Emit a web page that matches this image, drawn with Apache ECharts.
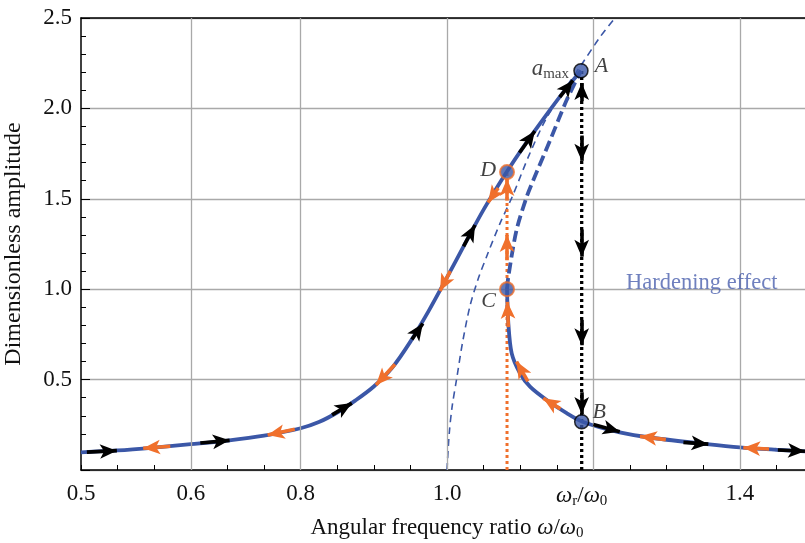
<!DOCTYPE html>
<html>
<head>
<meta charset="utf-8">
<script src="https://cdn.jsdelivr.net/npm/echarts@6/dist/echarts.min.js"></script>
<style>
html,body{margin:0;padding:0;background:#fff;}
#chart{width:805px;height:543px;}
</style>
</head>
<body>
<div id="chart"></div>
<script>
// Frequency response of a hardening oscillator: amplitude vs. frequency ratio.

// stable upper branch, from low frequency up to the peak A
const upperBranch = [
  [0.5,0.098],[0.55,0.108],[0.6,0.124],[0.65,0.143],[0.7,0.163],[0.75,0.19],
  [0.8,0.231],[0.825,0.265],[0.85,0.318],[0.875,0.385],[0.9,0.462],[0.925,0.565],
  [0.95,0.71],[0.975,0.88],[1.0,1.065],[1.025,1.255],[1.05,1.44],[1.0815,1.648],
  [1.1066,1.80],[1.135,1.96],[1.159,2.09],[1.183,2.208]
];
// stable lower branch, from C through B to high frequency
const lowerBranch = [
  [1.082,1.0],[1.0838,0.811],[1.0884,0.645],[1.0997,0.535],[1.1134,0.461],
  [1.1362,0.387],[1.1635,0.314],[1.185,0.267],[1.236,0.208],[1.282,0.177],
  [1.355,0.143],[1.4,0.125],[1.45,0.112],[1.5,0.101]
];
// unstable middle branch between C and A
const unstableBranch = [
  [1.082,1.0],[1.0838,1.069],[1.095,1.327],[1.109,1.512],[1.118,1.604],
  [1.141,1.825],[1.1635,2.046],[1.183,2.208]
];
// backbone curve (free-vibration frequency vs. amplitude)
const backbone = [
  [1.0,0.0],[1.003,0.2],[1.007,0.35],[1.013,0.5],[1.021,0.7],[1.031,0.9],
  [1.042,1.05],[1.056,1.2],[1.072,1.36],[1.09,1.52],[1.112,1.74],[1.135,1.94],
  [1.16,2.1],[1.185,2.25],[1.21,2.4],[1.2295,2.5]
];
// jump-down (black) and jump-up (orange) frequencies with their top amplitudes
const jumpDown = [[1.184,0.0],[1.184,2.208]];
const jumpUp = [[1.082,0.0],[1.082,1.648]];

// direction arrows: [x from, a from, x to, a to]
const blackArrows = [
  [0.508,0.099,0.549,0.107],[0.663,0.149,0.703,0.164],[0.843,0.305,0.870,0.37],
  [0.952,0.722,0.967,0.81],[1.0226,1.237,1.0383,1.355],[1.099,1.755,1.120,1.875],
  [1.154,2.062,1.172,2.155],
  [1.200,0.252,1.236,0.212],[1.323,0.153,1.357,0.143],[1.452,0.111,1.489,0.104],
  [1.184,1.85,1.184,1.71],[1.184,1.33,1.184,1.18],[1.184,0.83,1.184,0.69],
  [1.184,0.43,1.184,0.31],[1.184,2.04,1.184,2.14]
];
const orangeArrows = [
  [0.622,0.131,0.585,0.120],[0.792,0.225,0.755,0.193],[0.929,0.585,0.903,0.47],
  [1.0045,1.10,0.9904,0.99],[1.070,1.56,1.056,1.48],
  [1.0838,0.79,1.0825,0.93],[1.1105,0.49,1.095,0.600],[1.155,0.338,1.1315,0.397],
  [1.299,0.168,1.2636,0.186],[1.440,0.116,1.4048,0.123],
  [1.082,1.16,1.082,1.30],[1.082,1.49,1.082,1.61]
];

// marked states on the response curve
const keyPoints = [
  {name:'A', value:[1.183,2.208]},
  {name:'B', value:[1.184,0.267]},
  {name:'C', value:[1.082,1.0]},
  {name:'D', value:[1.082,1.648]}
];

// vertical grid lines and x tick labels
const gridX = [0.65,0.8,1.0,1.2,1.4];
const xTickValues = [0.5,0.65,0.8,1.0,1.184,1.4];
const xTickTexts = ['0.5','0.6','0.8','1.0','{w|ω}{s|r}{n|/}{w|ω}{s|0}','1.4'];

const BLUE = '#3b57a7';
const ORANGE = '#f0702c';
const FONT = 'Liberation Serif';

const chart = echarts.init(document.getElementById('chart'), null, {renderer:'canvas'});

function arrowSeries(list, color){
  return {
    type:'line', data:[], silent:true, z:6,
    markLine:{
      silent:true, animation:false,
      symbol:['none','arrow'], symbolSize:[11,17],
      label:{show:false}, emphasis:{disabled:true},
      lineStyle:{color:color, width:3.6, type:'solid', opacity:1},
      data:list.map(a => [{coord:[a[0],a[1]]},{coord:[a[2],a[3]]}])
    }
  };
}

function subRich(size){
  return {
    w:{fontFamily:FONT, fontStyle:'italic', fontSize:size, lineHeight:size + 4, verticalAlign:'middle', color:'#111'},
    n:{fontFamily:FONT, fontSize:size, lineHeight:size + 4, verticalAlign:'middle', color:'#111'},
    s:{fontFamily:FONT, fontSize:Math.round(size * 0.65), lineHeight:Math.round(size * 0.65), verticalAlign:'bottom', color:'#111'}
  };
}

const labelPos = {A:'right', B:'right', C:'left', D:'left'};
const labelOff = {A:[0,-5], B:[-3,-10], C:[3,12], D:[3,-2]};
const orangeRim = ['C','D'];

chart.setOption({
  animation:false,
  backgroundColor:'#fff',
  grid:{left:81, top:18, width:732, height:452, outerBoundsMode:'none'},
  xAxis:[
    {
      type:'value', min:0.5, max:1.5, interval:0.05, position:'bottom',
      axisLine:{show:true, lineStyle:{color:'#000', width:1.5}},
      axisTick:{show:true, inside:true, length:5, lineStyle:{color:'#000', width:1}},
      axisLabel:{show:false}, splitLine:{show:false},
      name:'Angular frequency ratio {w|ω}{n|/}{w|ω}{s|0}',
      nameLocation:'middle', nameGap:44,
      nameTextStyle:{fontFamily:FONT, fontSize:23, color:'#111', rich:subRich(23)}
    },
    {
      type:'value', min:0.5, max:1.5, position:'bottom',
      axisLine:{show:false},
      axisTick:{show:true, inside:true, length:9, customValues:gridX, lineStyle:{color:'#000', width:1}},
      axisLabel:{
        show:true, margin:12, customValues:xTickValues,
        fontFamily:FONT, fontSize:23, color:'#111', rich:subRich(23),
        formatter:function(v){
          const i = xTickValues.findIndex(t => Math.abs(t - v) < 1e-6);
          return i >= 0 ? xTickTexts[i] : '';
        }
      },
      splitLine:{show:false}
    },
    {
      type:'value', min:0.5, max:1.5, position:'top',
      axisLine:{show:true, lineStyle:{color:'#000', width:1.5}},
      axisTick:{show:false}, axisLabel:{show:false}, splitLine:{show:false}
    }
  ],
  yAxis:{
    type:'value', min:0, max:2.5, interval:0.5,
    axisLine:{show:true, lineStyle:{color:'#000', width:1.5}},
    axisTick:{show:true, inside:true, length:9, lineStyle:{color:'#000', width:1}},
    minorTick:{show:true, splitNumber:5, length:5, lineStyle:{color:'#000', width:1}},
    splitLine:{show:true, lineStyle:{color:'#a9a9a9', width:1.3}},
    axisLabel:{
      margin:9, fontFamily:FONT, fontSize:23, color:'#111',
      formatter:v => v === 0 ? '' : v.toFixed(1)
    },
    name:'Dimensionless amplitude', nameLocation:'middle', nameGap:55, nameRotate:90,
    nameTextStyle:{fontFamily:FONT, fontSize:24, color:'#111'}
  },
  series:[
    {
      type:'line', data:[], silent:true, z:1,
      markLine:{
        silent:true, animation:false, symbol:['none','none'], label:{show:false},
        emphasis:{disabled:true},
        lineStyle:{color:'#a9a9a9', width:1.3, type:'solid'},
        data:gridX.map(v => ({xAxis:v}))
      }
    },
    {
      type:'line', data:backbone, smooth:0.3, showSymbol:false, silent:true, z:2,
      lineStyle:{color:BLUE, width:1.6, type:[7,5]}
    },
    {
      type:'line', data:jumpDown, showSymbol:false, silent:true, z:3,
      lineStyle:{color:'#000', width:3.3, type:[3,3], cap:'butt'}
    },
    {
      type:'line', data:jumpUp, showSymbol:false, silent:true, z:3,
      lineStyle:{color:ORANGE, width:3, type:[3,3], cap:'butt'}
    },
    {
      type:'line', data:unstableBranch, smooth:0.3, showSymbol:false, silent:true, z:4,
      lineStyle:{color:BLUE, width:3.8, type:[11,5]}
    },
    {
      type:'line', data:upperBranch, smooth:0.3, showSymbol:false, silent:true, z:4,
      lineStyle:{color:BLUE, width:3.8}
    },
    {
      type:'line', data:lowerBranch, smooth:0.3, showSymbol:false, silent:true, z:4,
      lineStyle:{color:BLUE, width:3.8}
    },
    arrowSeries(blackArrows, '#000'),
    arrowSeries(orangeArrows, ORANGE),
    {
      type:'scatter', silent:true, z:8, symbolSize:14,
      data:keyPoints.map(p => ({
        name:p.name, value:p.value,
        itemStyle:{
          color:BLUE,
          borderColor:orangeRim.includes(p.name) ? ORANGE : '#000',
          borderWidth:orangeRim.includes(p.name) ? 2 : 1.5
        },
        label:{position:labelPos[p.name], offset:labelOff[p.name]}
      })),
      label:{
        show:true, formatter:'{b}', distance:6,
        fontFamily:FONT, fontStyle:'italic', fontSize:22, color:'#111'
      }
    },
    {
      // a_max annotation next to the peak
      type:'scatter', silent:true, z:8, symbolSize:0,
      data:[{value:keyPoints[0].value}],
      label:{
        show:true, position:'left', distance:12, offset:[0,-2],
        formatter:'{a|a}{m|max}',
        rich:{
          a:{fontFamily:FONT, fontStyle:'italic', fontSize:23, lineHeight:25, verticalAlign:'middle', color:'#111'},
          m:{fontFamily:FONT, fontSize:15, lineHeight:15, verticalAlign:'bottom', color:'#111'}
        }
      }
    },
    {
      type:'scatter', silent:true, z:8, symbolSize:0,
      data:[{value:[1.348,1.034]}],
      label:{
        show:true, position:'inside', formatter:'Hardening effect',
        fontFamily:FONT, fontSize:22.5, color:'#4b60ae'
      }
    }
  ]
});
</script>
</body>
</html>
